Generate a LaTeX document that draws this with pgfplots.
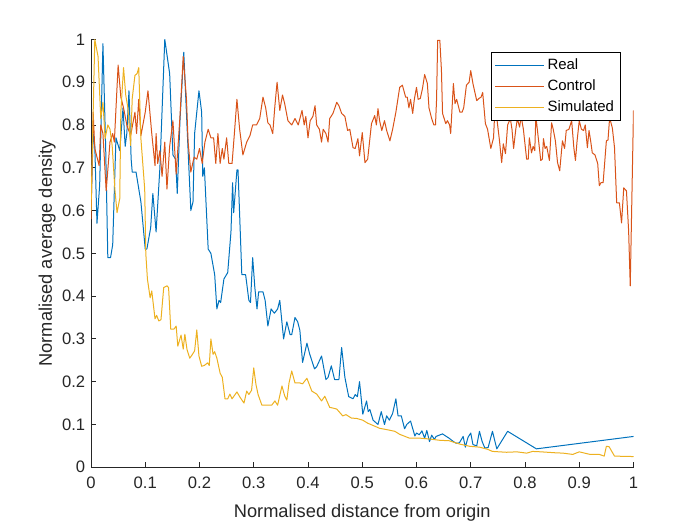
\documentclass[border=0pt]{standalone}
\usepackage{fontspec}
\setmainfont{Liberation Sans}
\usepackage{pgfplots}
\pgfplotsset{compat=1.18}
\definecolor{mblue}{rgb}{0,0.447,0.741}
\definecolor{morange}{rgb}{0.85,0.325,0.098}
\definecolor{myellow}{rgb}{0.929,0.694,0.125}
\definecolor{mgray}{rgb}{0.15,0.15,0.15}
\begin{document}
\begin{tikzpicture}
\path[use as bounding box] (0,0) rectangle (420bp,315bp);
\begin{axis}[
  at={(54.6bp,34.65bp)}, anchor=south west,
  scale only axis, width=325.5bp, height=256.7bp,
  xmin=0, xmax=1, ymin=0, ymax=1,
  axis x line*=bottom, axis y line*=left,
  axis line style={mgray, line width=0.5bp},
  tick align=inside, major tick length=3.2bp,
  tick style={mgray, line width=0.5bp},
  xtick={0,0.1,...,1}, ytick={0,0.1,...,1},
  xticklabels={0,0.1,0.2,0.3,0.4,0.5,0.6,0.7,0.8,0.9,1},
  yticklabels={0,0.1,0.2,0.3,0.4,0.5,0.6,0.7,0.8,0.9,1},
  /pgf/number format/assume math mode=true,
  ticklabel style={font=\fontsize{10}{12}\selectfont, text=mgray},
  xticklabel style={yshift=-2.4bp},
  label style={font=\fontsize{11}{13}\selectfont, text=mgray},
  xlabel style={yshift=-2.4bp},
  ylabel style={yshift=-3bp},
  xlabel={Normalised distance from origin},
  ylabel={Normalised average density},
  legend style={at={(0.977,0.971)}, anchor=north east, draw=black, line width=0.4bp,
    font=\fontsize{9}{10.5}\selectfont, row sep=0.5bp, inner sep=2bp,
    legend cell align=left},
  legend image code/.code={\draw[#1] (0bp,0bp) -- (29bp,0bp);},
  every axis plot/.append style={line width=0.6bp, line join=round},
]
\addplot[mblue] coordinates {
(0,0.60) (0.004,0.78) (0.007,0.75) (0.011,0.57) (0.016,0.66) (0.022,0.99) (0.027,0.75) (0.031,0.49) (0.036,0.49) (0.04,0.52)
(0.046,0.77) (0.053,0.74) (0.059,0.84) (0.063,0.75) (0.066,0.78) (0.070,0.88) (0.074,0.72) (0.076,0.69) (0.083,0.69) (0.092,0.62)
(0.100,0.51) (0.103,0.51) (0.110,0.56) (0.114,0.64) (0.120,0.55) (0.127,0.70) (0.136,1.00) (0.145,0.92) (0.151,0.73) (0.156,0.72)
(0.159,0.64) (0.164,0.81) (0.171,0.97) (0.179,0.74) (0.184,0.60) (0.188,0.62) (0.191,0.78) (0.199,0.88) (0.204,0.83) (0.206,0.68)
(0.209,0.70) (0.216,0.51) (0.221,0.50) (0.228,0.45) (0.232,0.37) (0.236,0.39) (0.239,0.385) (0.245,0.44) (0.252,0.455) (0.258,0.55)
(0.261,0.665) (0.263,0.595) (0.269,0.695) (0.271,0.695) (0.278,0.45) (0.285,0.45) (0.291,0.39) (0.294,0.385) (0.298,0.49) (0.302,0.42)
(0.306,0.37) (0.309,0.41) (0.317,0.41) (0.321,0.39) (0.326,0.33) (0.332,0.37) (0.338,0.36) (0.344,0.37) (0.348,0.39) (0.355,0.30)
(0.361,0.34) (0.367,0.31) (0.370,0.31) (0.376,0.35) (0.381,0.34) (0.385,0.32) (0.390,0.245) (0.398,0.29) (0.403,0.265) (0.412,0.23)
(0.416,0.235) (0.425,0.26) (0.433,0.205) (0.437,0.21) (0.443,0.237) (0.449,0.205) (0.457,0.205) (0.462,0.28) (0.468,0.21) (0.475,0.165)
(0.483,0.16) (0.487,0.17) (0.491,0.165) (0.495,0.20) (0.501,0.124) (0.508,0.155) (0.511,0.13) (0.514,0.135) (0.520,0.11) (0.529,0.10)
(0.535,0.13) (0.541,0.10) (0.545,0.12) (0.550,0.11) (0.556,0.126) (0.562,0.16) (0.566,0.12) (0.572,0.12) (0.578,0.09) (0.582,0.10)
(0.589,0.108) (0.597,0.073) (0.600,0.08) (0.605,0.076) (0.610,0.085) (0.615,0.068) (0.619,0.086) (0.624,0.06) (0.628,0.075) (0.633,0.065)
(0.636,0.072) (0.648,0.078) (0.655,0.072) (0.660,0.068) (0.667,0.061) (0.673,0.056) (0.679,0.057) (0.686,0.072) (0.690,0.047) (0.695,0.07)
(0.700,0.08) (0.704,0.053) (0.711,0.05) (0.716,0.084) (0.721,0.06) (0.726,0.045) (0.732,0.046) (0.740,0.084) (0.748,0.043) (0.768,0.084)
(0.821,0.043) (1.0,0.072)
};
\addlegendentry{Real}
\addplot[morange] coordinates {
(0,0.58) (0.004,0.83) (0.007,0.745) (0.015,0.705) (0.018,0.80) (0.022,0.78) (0.028,0.646) (0.035,0.76) (0.04,0.78) (0.043,0.76)
(0.05,0.94) (0.055,0.865) (0.06,0.84) (0.066,0.80) (0.073,0.775) (0.081,0.83) (0.084,0.78) (0.088,0.86) (0.092,0.775) (0.1,0.83)
(0.105,0.88) (0.112,0.78) (0.118,0.705) (0.12,0.78) (0.123,0.71) (0.127,0.74) (0.131,0.68) (0.136,0.76) (0.14,0.65) (0.145,0.75)
(0.151,0.81) (0.157,0.685) (0.164,0.82) (0.17,0.96) (0.176,0.86) (0.179,0.76) (0.184,0.69) (0.19,0.725) (0.195,0.72) (0.2,0.745)
(0.205,0.71) (0.21,0.76) (0.216,0.79) (0.221,0.77) (0.226,0.77) (0.23,0.71) (0.234,0.78) (0.238,0.71) (0.242,0.745) (0.245,0.72)
(0.25,0.77) (0.254,0.71) (0.26,0.71) (0.264,0.775) (0.269,0.86) (0.274,0.79) (0.28,0.73) (0.287,0.76) (0.293,0.775) (0.298,0.80)
(0.305,0.80) (0.311,0.815) (0.317,0.865) (0.322,0.84) (0.326,0.805) (0.33,0.80) (0.335,0.78) (0.339,0.845) (0.343,0.90) (0.348,0.834)
(0.353,0.87) (0.357,0.85) (0.363,0.81) (0.37,0.80) (0.376,0.815) (0.382,0.80) (0.389,0.834) (0.393,0.80) (0.396,0.82) (0.4,0.77)
(0.404,0.81) (0.409,0.82) (0.413,0.845) (0.416,0.80) (0.421,0.79) (0.425,0.76) (0.428,0.79) (0.433,0.78) (0.437,0.76) (0.44,0.815)
(0.446,0.827) (0.453,0.853) (0.457,0.845) (0.462,0.827) (0.468,0.82) (0.473,0.787) (0.477,0.79) (0.483,0.747) (0.487,0.745) (0.492,0.768)
(0.495,0.728) (0.5,0.782) (0.505,0.712) (0.51,0.72) (0.517,0.803) (0.523,0.822) (0.526,0.80) (0.529,0.838) (0.532,0.81) (0.536,0.787)
(0.541,0.81) (0.545,0.787) (0.551,0.763) (0.556,0.79) (0.562,0.83) (0.569,0.888) (0.574,0.893) (0.58,0.865) (0.583,0.865) (0.586,0.84)
(0.589,0.86) (0.593,0.827) (0.596,0.86) (0.6,0.888) (0.603,0.86) (0.607,0.862) (0.611,0.885) (0.615,0.918) (0.62,0.897) (0.623,0.84)
(0.628,0.815) (0.632,0.80) (0.635,0.80) (0.637,0.86) (0.639,0.998) (0.643,0.998) (0.646,0.927) (0.648,0.827) (0.654,0.803) (0.657,0.81)
(0.661,0.80) (0.663,0.78) (0.666,0.85) (0.668,0.897) (0.671,0.85) (0.674,0.86) (0.68,0.83) (0.684,0.83) (0.687,0.84) (0.692,0.893)
(0.697,0.90) (0.7,0.927) (0.704,0.897) (0.711,0.857) (0.715,0.862) (0.719,0.865) (0.722,0.876) (0.727,0.803) (0.731,0.79) (0.737,0.745)
(0.742,0.77) (0.745,0.85) (0.75,0.795) (0.753,0.763) (0.757,0.712) (0.76,0.756) (0.764,0.733) (0.768,0.80) (0.773,0.815) (0.776,0.79)
(0.779,0.745) (0.783,0.79) (0.786,0.815) (0.79,0.795) (0.793,0.82) (0.797,0.79) (0.803,0.72) (0.806,0.72) (0.808,0.77) (0.812,0.735)
(0.815,0.75) (0.818,0.74) (0.82,0.82) (0.823,0.787) (0.829,0.717) (0.832,0.72) (0.834,0.768) (0.837,0.745) (0.840,0.75) (0.845,0.717)
(0.849,0.805) (0.852,0.79) (0.856,0.763) (0.86,0.712) (0.864,0.693) (0.869,0.763) (0.873,0.745) (0.876,0.787) (0.881,0.79) (0.886,0.81)
(0.89,0.747) (0.893,0.717) (0.896,0.763) (0.9,0.81) (0.904,0.79) (0.908,0.787) (0.911,0.80) (0.915,0.747) (0.918,0.787) (0.921,0.763)
(0.924,0.735) (0.929,0.73) (0.934,0.71) (0.937,0.658) (0.94,0.665) (0.944,0.665) (0.95,0.763) (0.953,0.765) (0.956,0.817) (0.961,0.793)
(0.965,0.747) (0.969,0.618) (0.974,0.618) (0.978,0.571) (0.982,0.653) (0.987,0.646) (0.991,0.553) (0.994,0.424) (1.0,0.834)
};
\addlegendentry{Control}
\addplot[myellow] coordinates {
(0,0.60) (0.007,1.0) (0.013,0.96) (0.018,0.815) (0.022,0.853) (0.026,0.768) (0.031,0.80) (0.035,0.79) (0.039,0.752) (0.044,0.65)
(0.048,0.595) (0.053,0.628) (0.055,0.83) (0.06,0.934) (0.064,0.87) (0.068,0.84) (0.073,0.752) (0.076,0.862) (0.081,0.916) (0.085,0.92)
(0.088,0.934) (0.092,0.768) (0.099,0.65) (0.101,0.50) (0.104,0.44) (0.109,0.396) (0.112,0.412) (0.118,0.347) (0.121,0.355) (0.125,0.342)
(0.129,0.345) (0.134,0.42) (0.14,0.424) (0.143,0.42) (0.147,0.323) (0.153,0.323) (0.157,0.33) (0.16,0.283) (0.166,0.309) (0.17,0.276)
(0.173,0.311) (0.177,0.275) (0.182,0.255) (0.186,0.262) (0.191,0.272) (0.195,0.321) (0.199,0.26) (0.204,0.236) (0.209,0.238) (0.215,0.244)
(0.218,0.238) (0.221,0.30) (0.225,0.264) (0.228,0.27) (0.232,0.255) (0.238,0.22) (0.242,0.21) (0.247,0.16) (0.252,0.16) (0.256,0.171)
(0.26,0.16) (0.269,0.176) (0.275,0.163) (0.282,0.15) (0.287,0.178) (0.291,0.17) (0.296,0.18) (0.3,0.232) (0.304,0.194) (0.308,0.17)
(0.315,0.145) (0.325,0.145) (0.333,0.145) (0.339,0.155) (0.344,0.145) (0.352,0.19) (0.357,0.167) (0.361,0.157) (0.365,0.197) (0.37,0.225)
(0.376,0.197) (0.385,0.197) (0.39,0.195) (0.398,0.208) (0.407,0.178) (0.416,0.171) (0.425,0.155) (0.431,0.166) (0.44,0.14) (0.447,0.138)
(0.453,0.136) (0.464,0.12) (0.47,0.123) (0.48,0.115) (0.49,0.114) (0.501,0.11) (0.51,0.103) (0.523,0.096) (0.532,0.091) (0.545,0.088)
(0.56,0.084) (0.569,0.077) (0.587,0.068) (0.606,0.068) (0.624,0.066) (0.643,0.063) (0.66,0.062) (0.68,0.054) (0.698,0.049) (0.716,0.047)
(0.731,0.042) (0.74,0.037) (0.766,0.035) (0.785,0.036) (0.803,0.033) (0.814,0.037) (0.83,0.036) (0.853,0.034) (0.87,0.033) (0.888,0.030)
(0.9,0.036) (0.92,0.03) (0.937,0.03) (0.946,0.026) (0.95,0.049) (0.955,0.048) (0.965,0.026) (1.0,0.025)
};
\addlegendentry{Simulated}
\end{axis}
\end{tikzpicture}
\end{document}
